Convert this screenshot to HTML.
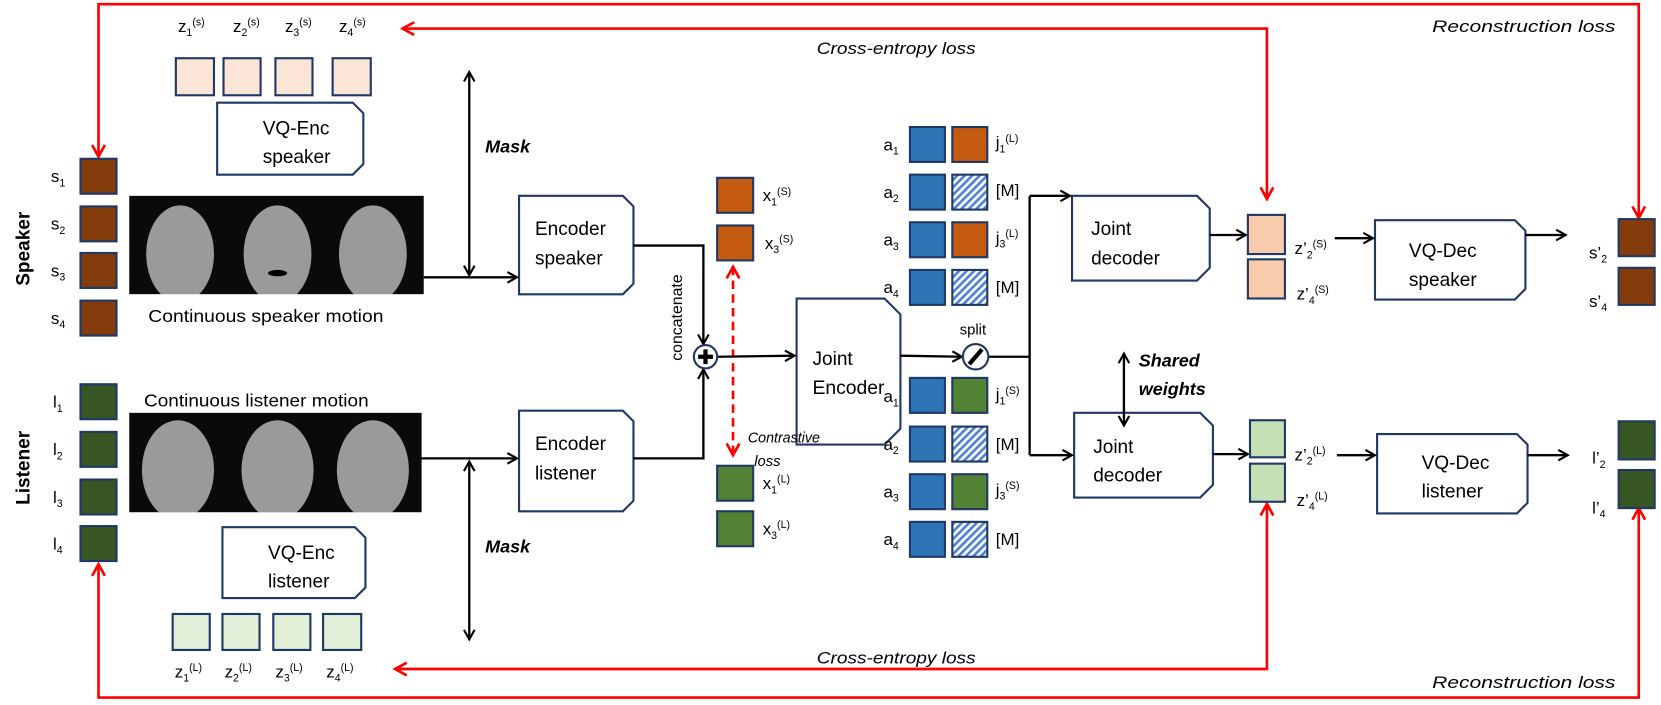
<!DOCTYPE html>
<html><head><meta charset="utf-8"><style>
html,body{margin:0;padding:0;background:#fff;width:1661px;height:705px;overflow:hidden}
svg{display:block}
text{font-family:"Liberation Sans",sans-serif;fill:#000}
.t{font-size:16px}
.s{font-size:10px}
.bi{font-weight:bold;font-style:italic;font-size:17px}
.it{font-style:italic;font-size:16px}
</style></head><body>
<svg width="1661" height="705" viewBox="0 0 1568 666" preserveAspectRatio="none" xmlns="http://www.w3.org/2000/svg">
<defs>
<marker id="ab" markerWidth="12" markerHeight="12" refX="10" refY="6" orient="auto-start-reverse" markerUnits="userSpaceOnUse"><path d="M1,1 L10,6 L1,11" fill="none" stroke="#000" stroke-width="2"/></marker>
<marker id="ar" markerWidth="14" markerHeight="14" refX="12" refY="7" orient="auto-start-reverse" markerUnits="userSpaceOnUse"><path d="M1,1 L12,7 L1,13" fill="none" stroke="#f00" stroke-width="2.5"/></marker>
<pattern id="h" width="5" height="5" patternUnits="userSpaceOnUse" patternTransform="rotate(45)"><rect width="5" height="5" fill="#fff"/><rect width="2.5" height="5" fill="#4f81d6"/></pattern>
</defs>
<g fill="none" stroke="#f00" stroke-width="2.5">
<polyline points="1547,206 1547,4 93,4 93,148" marker-start="url(#ar)" marker-end="url(#ar)"/>
<polyline points="1196,188 1196,27 380,27" marker-start="url(#ar)" marker-end="url(#ar)"/>
<polyline points="1196,476 1196,632 373,632" marker-start="url(#ar)" marker-end="url(#ar)"/>
<polyline points="1547,480 1547,659 93,659 93,533" marker-start="url(#ar)" marker-end="url(#ar)"/>
<line x1="692" y1="252" x2="692" y2="430" stroke-dasharray="8,5" marker-start="url(#ar)" marker-end="url(#ar)"/>
</g>
<text x="1352" y="30" class="it" textLength="173" lengthAdjust="spacingAndGlyphs">Reconstruction loss</text>
<text x="1352" y="650" class="it" textLength="173" lengthAdjust="spacingAndGlyphs">Reconstruction loss</text>
<text x="771" y="51" class="it" textLength="150" lengthAdjust="spacingAndGlyphs">Cross-entropy loss</text>
<text x="771" y="627" class="it" textLength="150" lengthAdjust="spacingAndGlyphs">Cross-entropy loss</text>
<text transform="translate(28,235) rotate(-90)" text-anchor="middle" style="font-weight:bold;font-size:18px">Speaker</text>
<text transform="translate(28,442) rotate(-90)" text-anchor="middle" style="font-weight:bold;font-size:18px">Listener</text>
<g stroke="#1f3864" stroke-width="2" fill="#843c0c">
<rect x="76" y="150" width="34" height="33"/><rect x="76" y="195" width="34" height="33"/><rect x="76" y="239" width="34" height="33"/><rect x="76" y="284" width="34" height="33"/>
<rect x="1528" y="207" width="34" height="35"/><rect x="1528" y="253" width="34" height="35"/>
</g>
<g stroke="#1f3864" stroke-width="2" fill="#375623">
<rect x="76" y="363" width="34" height="33"/><rect x="76" y="408" width="34" height="33"/><rect x="76" y="453" width="34" height="33"/><rect x="76" y="497" width="34" height="33"/>
<rect x="1528" y="398" width="34" height="36"/><rect x="1528" y="444" width="34" height="36"/>
</g>
<g class="t">
<text x="48" y="172">s<tspan class="s" dy="4">1</tspan></text>
<text x="48" y="217">s<tspan class="s" dy="4">2</tspan></text>
<text x="48" y="261">s<tspan class="s" dy="4">3</tspan></text>
<text x="48" y="306">s<tspan class="s" dy="4">4</tspan></text>
<text x="50" y="385">l<tspan class="s" dy="4">1</tspan></text>
<text x="50" y="430">l<tspan class="s" dy="4">2</tspan></text>
<text x="50" y="475">l<tspan class="s" dy="4">3</tspan></text>
<text x="50" y="519">l<tspan class="s" dy="4">4</tspan></text>
</g>
<rect x="122" y="185" width="278" height="93" fill="#0a0a0a"/>
<g fill="#9a9a9a"><ellipse cx="170" cy="240" rx="32" ry="46"/><ellipse cx="262" cy="240" rx="32" ry="46"/><ellipse cx="352" cy="240" rx="32" ry="46"/></g>
<rect x="122" y="278" width="278" height="10" fill="#fff"/>
<ellipse cx="262" cy="258" rx="9" ry="3" fill="#000"/>
<rect x="122" y="390" width="276" height="94" fill="#0a0a0a"/>
<g fill="#9a9a9a"><ellipse cx="168" cy="444" rx="34" ry="47"/><ellipse cx="262" cy="444" rx="34" ry="47"/><ellipse cx="352" cy="444" rx="34" ry="47"/></g>
<rect x="122" y="484" width="276" height="10" fill="#fff"/>
<text x="140" y="304" style="font-size:17px" textLength="222" lengthAdjust="spacingAndGlyphs">Continuous speaker motion</text>
<text x="136" y="384" style="font-size:17px" textLength="212" lengthAdjust="spacingAndGlyphs">Continuous listener motion</text>
<g stroke="#1f3864" stroke-width="2" fill="#fbe5d6">
<rect x="166" y="55" width="36" height="35"/><rect x="211" y="55" width="35" height="35"/><rect x="260" y="55" width="35" height="35"/><rect x="314" y="55" width="36" height="35"/>
</g>
<g stroke="#1f3864" stroke-width="2" fill="#e2f0d9">
<rect x="163" y="580" width="35" height="34"/><rect x="210" y="580" width="35" height="34"/><rect x="258" y="580" width="35" height="34"/><rect x="305" y="580" width="36" height="34"/>
</g>
<g class="t">
<text x="168" y="30">z<tspan class="s" dy="4">1</tspan><tspan class="s" dy="-10">(s)</tspan></text>
<text x="220" y="30">z<tspan class="s" dy="4">2</tspan><tspan class="s" dy="-10">(s)</tspan></text>
<text x="269" y="30">z<tspan class="s" dy="4">3</tspan><tspan class="s" dy="-10">(s)</tspan></text>
<text x="320" y="30">z<tspan class="s" dy="4">4</tspan><tspan class="s" dy="-10">(s)</tspan></text>
<text x="165" y="640">z<tspan class="s" dy="4">1</tspan><tspan class="s" dy="-10">(L)</tspan></text>
<text x="212" y="640">z<tspan class="s" dy="4">2</tspan><tspan class="s" dy="-10">(L)</tspan></text>
<text x="260" y="640">z<tspan class="s" dy="4">3</tspan><tspan class="s" dy="-10">(L)</tspan></text>
<text x="308" y="640">z<tspan class="s" dy="4">4</tspan><tspan class="s" dy="-10">(L)</tspan></text>
</g>
<g fill="#fff" stroke="#1f3864" stroke-width="2">
<path d="M205,97 H333 L343,107 V155 L333,165 H205 Z"/>
<path d="M210,498 H335 L345,508 V555 L335,565 H210 Z"/>
<path d="M490,185 H588 L598,195 V268 L588,278 H490 Z"/>
<path d="M490,388 H588 L598,398 V473 L588,483 H490 Z"/>
<path d="M752,282 H835 L850,297 V405 L835,420 H752 Z"/>
<path d="M1012,185 H1130 L1142,197 V253 L1130,265 H1012 Z"/>
<path d="M1014,390 H1133 L1145,402 V458 L1133,470 H1014 Z"/>
<path d="M1298,208 H1430 L1440,218 V273 L1430,283 H1298 Z"/>
<path d="M1300,410 H1432 L1442,420 V475 L1432,485 H1300 Z"/>
</g>
<g style="font-size:18px">
<text x="248" y="127">VQ-Enc</text><text x="248" y="154">speaker</text>
<text x="253" y="528">VQ-Enc</text><text x="253" y="555">listener</text>
<text x="505" y="222">Encoder</text><text x="505" y="250">speaker</text>
<text x="505" y="425">Encoder</text><text x="505" y="453">listener</text>
<text x="767" y="345">Joint</text><text x="767" y="372" textLength="68" lengthAdjust="spacingAndGlyphs">Encoder</text>
<text x="1030" y="222">Joint</text><text x="1030" y="250">decoder</text>
<text x="1032" y="428">Joint</text><text x="1032" y="455">decoder</text>
<text x="1330" y="243">VQ-Dec</text><text x="1330" y="270">speaker</text>
<text x="1342" y="443">VQ-Dec</text><text x="1342" y="470">listener</text>
</g>
<g fill="none" stroke="#000" stroke-width="2.2">
<line x1="400" y1="262" x2="488" y2="262" marker-end="url(#ab)"/>
<line x1="398" y1="433" x2="488" y2="433" marker-end="url(#ab)"/>
<line x1="443" y1="68" x2="443" y2="260" marker-start="url(#ab)" marker-end="url(#ab)"/>
<line x1="443" y1="436" x2="443" y2="604" marker-start="url(#ab)" marker-end="url(#ab)"/>
<polyline points="598,232 664,232 664,325" marker-end="url(#ab)"/>
<polyline points="598,433 664,433 664,349" marker-end="url(#ab)"/>
<line x1="677" y1="337" x2="750" y2="336" marker-end="url(#ab)"/>
<line x1="850" y1="336" x2="908" y2="337" marker-end="url(#ab)"/>
<polyline points="933,337 972,337"/>
<polyline points="972,185 972,430"/>
<line x1="972" y1="185" x2="1010" y2="185" marker-end="url(#ab)"/>
<line x1="972" y1="430" x2="1012" y2="430" marker-end="url(#ab)"/>
<line x1="1061" y1="334" x2="1061" y2="402" marker-start="url(#ab)" marker-end="url(#ab)"/>
<line x1="1142" y1="222" x2="1176" y2="222" marker-end="url(#ab)"/>
<line x1="1145" y1="429" x2="1178" y2="429" marker-end="url(#ab)"/>
<line x1="1260" y1="225" x2="1296" y2="225" marker-end="url(#ab)"/>
<line x1="1262" y1="430" x2="1298" y2="430" marker-end="url(#ab)"/>
<line x1="1440" y1="222" x2="1478" y2="222" marker-end="url(#ab)"/>
<line x1="1442" y1="430" x2="1480" y2="430" marker-end="url(#ab)"/>
</g>
<circle cx="666" cy="337" r="11" fill="#fff" stroke="#1f3864" stroke-width="2"/>
<path d="M666,330 V344 M659,337 H673" stroke="#000" stroke-width="4"/>
<circle cx="921" cy="337" r="12" fill="#fff" stroke="#1f3864" stroke-width="2"/>
<line x1="915" y1="344" x2="927" y2="330" stroke="#000" stroke-width="4"/>
<text x="906" y="316" style="font-size:14px">split</text>
<text transform="translate(644,300) rotate(-90)" text-anchor="middle" style="font-size:15px">concatenate</text>
<text x="458" y="144" class="bi">Mask</text>
<text x="458" y="522" class="bi">Mask</text>
<text x="1075" y="346" class="bi">Shared</text>
<text x="1075" y="373" class="bi">weights</text>
<text x="706" y="418" class="it" style="font-size:14px" textLength="68" lengthAdjust="spacingAndGlyphs">Contrastive</text>
<text x="712" y="440" class="it" style="font-size:14px">loss</text>
<g stroke="#1f3864" stroke-width="2">
<rect x="677" y="168" width="34" height="33" fill="#c55a11"/><rect x="677" y="213" width="34" height="33" fill="#c55a11"/>
<rect x="677" y="440" width="34" height="33" fill="#548235"/><rect x="677" y="483" width="34" height="33" fill="#548235"/>
<rect x="859" y="120" width="33" height="33" fill="#2e75b6"/><rect x="859" y="165" width="33" height="33" fill="#2e75b6"/><rect x="859" y="210" width="33" height="33" fill="#2e75b6"/><rect x="859" y="255" width="33" height="33" fill="#2e75b6"/>
<rect x="899" y="120" width="33" height="33" fill="#c55a11"/><rect x="899" y="165" width="33" height="33" fill="url(#h)"/><rect x="899" y="210" width="33" height="33" fill="#c55a11"/><rect x="899" y="255" width="33" height="33" fill="url(#h)"/>
<rect x="859" y="357" width="33" height="33" fill="#2e75b6"/><rect x="859" y="403" width="33" height="33" fill="#2e75b6"/><rect x="859" y="448" width="33" height="33" fill="#2e75b6"/><rect x="859" y="493" width="33" height="33" fill="#2e75b6"/>
<rect x="899" y="357" width="33" height="33" fill="#548235"/><rect x="899" y="403" width="33" height="33" fill="url(#h)"/><rect x="899" y="448" width="33" height="33" fill="#548235"/><rect x="899" y="493" width="33" height="33" fill="url(#h)"/>
<rect x="1178" y="203" width="35" height="37" fill="#f8cbad"/><rect x="1178" y="245" width="35" height="37" fill="#f8cbad"/>
<rect x="1180" y="397" width="33" height="35" fill="#c5e0b4"/><rect x="1180" y="438" width="33" height="36" fill="#c5e0b4"/>
</g>
<g class="t">
<text x="720" y="190">x<tspan class="s" dy="4">1</tspan><tspan class="s" dy="-10">(S)</tspan></text>
<text x="722" y="235">x<tspan class="s" dy="4">3</tspan><tspan class="s" dy="-10">(S)</tspan></text>
<text x="720" y="462">x<tspan class="s" dy="4">1</tspan><tspan class="s" dy="-10">(L)</tspan></text>
<text x="720" y="505">x<tspan class="s" dy="4">3</tspan><tspan class="s" dy="-10">(L)</tspan></text>
<text x="834" y="142">a<tspan class="s" dy="4">1</tspan></text>
<text x="834" y="187">a<tspan class="s" dy="4">2</tspan></text>
<text x="834" y="232">a<tspan class="s" dy="4">3</tspan></text>
<text x="834" y="277">a<tspan class="s" dy="4">4</tspan></text>
<text x="834" y="380">a<tspan class="s" dy="4">1</tspan></text>
<text x="834" y="425">a<tspan class="s" dy="4">2</tspan></text>
<text x="834" y="470">a<tspan class="s" dy="4">3</tspan></text>
<text x="834" y="515">a<tspan class="s" dy="4">4</tspan></text>
<text x="940" y="140">j<tspan class="s" dy="4">1</tspan><tspan class="s" dy="-10">(L)</tspan></text>
<text x="940" y="185">[M]</text>
<text x="940" y="230">j<tspan class="s" dy="4">3</tspan><tspan class="s" dy="-10">(L)</tspan></text>
<text x="940" y="277">[M]</text>
<text x="940" y="378">j<tspan class="s" dy="4">1</tspan><tspan class="s" dy="-10">(S)</tspan></text>
<text x="940" y="425">[M]</text>
<text x="940" y="468">j<tspan class="s" dy="4">3</tspan><tspan class="s" dy="-10">(S)</tspan></text>
<text x="940" y="515">[M]</text>
<text x="1222" y="240">z’<tspan class="s" dy="4">2</tspan><tspan class="s" dy="-10">(S)</tspan></text>
<text x="1224" y="283">z’<tspan class="s" dy="4">4</tspan><tspan class="s" dy="-10">(S)</tspan></text>
<text x="1222" y="435">z’<tspan class="s" dy="4">2</tspan><tspan class="s" dy="-10">(L)</tspan></text>
<text x="1224" y="478">z’<tspan class="s" dy="4">4</tspan><tspan class="s" dy="-10">(L)</tspan></text>
<text x="1500" y="244">s’<tspan class="s" dy="4">2</tspan></text>
<text x="1500" y="290">s’<tspan class="s" dy="4">4</tspan></text>
<text x="1503" y="438">l’<tspan class="s" dy="4">2</tspan></text>
<text x="1503" y="485">l’<tspan class="s" dy="4">4</tspan></text>
</g>
</svg>
</body></html>
